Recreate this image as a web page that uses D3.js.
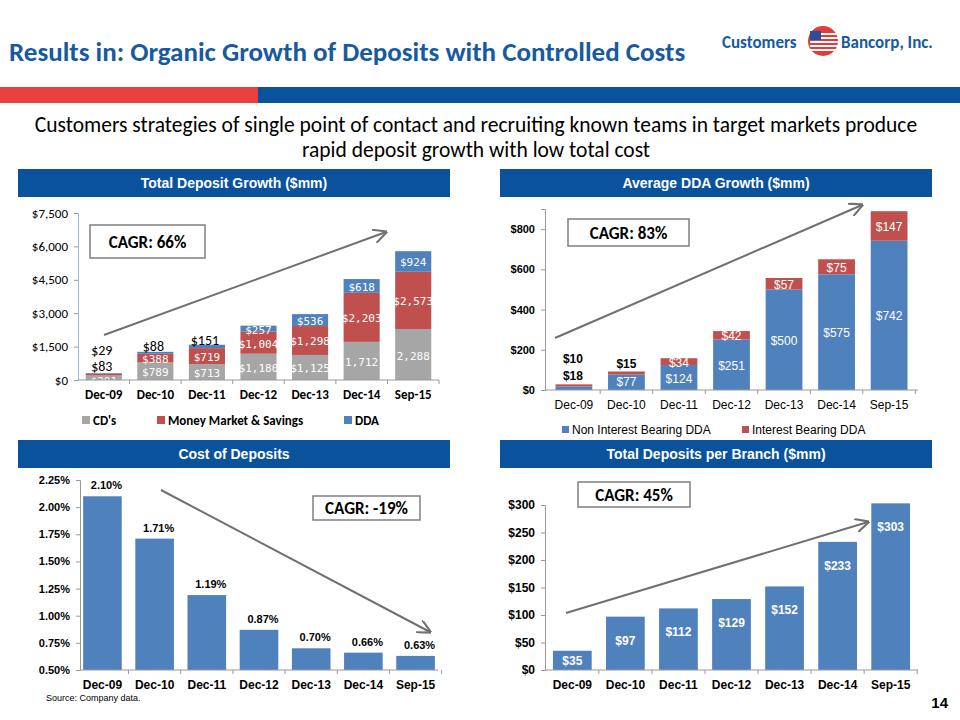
<!DOCTYPE html>
<html><head><meta charset="utf-8">
<script src="https://cdnjs.cloudflare.com/ajax/libs/d3/7.8.5/d3.min.js"></script>
<style>body{margin:0;background:#fff}svg{display:block;font-family:Calibri,Carlito,"Liberation Sans",sans-serif}</style>
</head><body><svg id="c" width="960" height="720"></svg>
<script>
const years = ['Dec-09','Dec-10','Dec-11','Dec-12','Dec-13','Dec-14','Sep-15'];
const cds = [201, 789, 713, 1180, 1125, 1712, 2288];
const mms = [83, 388, 719, 1004, 1298, 2203, 2573];
const dda = [29, 88, 151, 257, 536, 618, 924];
const nonIntDda = [18, 77, 124, 251, 500, 575, 742];
const intDda = [10, 15, 34, 42, 57, 75, 147];
const costPct = [2.10, 1.71, 1.19, 0.87, 0.70, 0.66, 0.63];
const perBranch = [35, 97, 112, 129, 152, 233, 303];

const BLUE = '#4f81bd', RED = '#c0504d', GREY = '#a6a6a6';
const svg = d3.select('#c');
const arial = 'Arial,"Liberation Sans",sans-serif';

// header
svg.append('text').attr('x', 9).attr('y', 61).attr('fill', '#175aa0')
  .attr('font-size', 27).attr('font-weight', 'bold')
  .text('Results in:  Organic Growth of Deposits with Controlled Costs');
svg.append('text').attr('x', 722).attr('y', 48).attr('fill', '#175aa0')
  .attr('font-size', 17).attr('font-weight', 'bold').text('Customers');
svg.append('circle').attr('cx', 823).attr('cy', 41).attr('r', 15).attr('fill', '#e03c3c');
[0,1,2,3,4].forEach(i => svg.append('rect').attr('x', 810).attr('y', 33 + i * 4)
  .attr('width', 28).attr('height', 2).attr('fill', '#fff'));
svg.append('rect').attr('x', 810).attr('y', 31).attr('width', 11).attr('height', 9).attr('fill', '#2a4f9a');
svg.append('text').attr('x', 841).attr('y', 48).attr('fill', '#175aa0')
  .attr('font-size', 17).attr('font-weight', 'bold').text('Bancorp, Inc.');
svg.append('rect').attr('x', 0).attr('y', 87).attr('width', 258).attr('height', 16).attr('fill', '#e8403f');
svg.append('rect').attr('x', 258).attr('y', 87).attr('width', 702).attr('height', 16).attr('fill', '#0a529c');
svg.append('text').attr('x', 476).attr('y', 132).attr('text-anchor', 'middle').attr('font-size', 21.5)
  .text('Customers strategies of single point of contact and recruiting known teams in target markets produce');
svg.append('text').attr('x', 476).attr('y', 157).attr('text-anchor', 'middle').attr('font-size', 21.5)
  .text('rapid deposit growth with low total cost');

function panelHead(x, y, t) {
  svg.append('rect').attr('x', x).attr('y', y).attr('width', 432).attr('height', 28).attr('fill', '#0a529c');
  svg.append('text').attr('x', x + 216).attr('y', y + 19).attr('text-anchor', 'middle').attr('fill', '#fff')
    .attr('font-family', arial).attr('font-weight', 'bold').attr('font-size', 14).text(t);
}
panelHead(18, 169, 'Total Deposit Growth  ($mm)');
panelHead(500, 169, 'Average DDA Growth  ($mm)');
panelHead(18, 440, 'Cost of Deposits');
panelHead(500, 440, 'Total Deposits per Branch  ($mm)');

svg.append('defs').append('marker').attr('id', 'ah').attr('viewBox', '0 0 10 10').attr('refX', 9).attr('refY', 5)
  .attr('markerWidth', 7).attr('markerHeight', 7).attr('orient', 'auto')
  .append('path').attr('d', 'M0,0L10,5L0,10').attr('fill', 'none').attr('stroke', '#707070').attr('stroke-width', 1.5);
function arrow(x1, y1, x2, y2) {
  svg.append('line').attr('x1', x1).attr('y1', y1).attr('x2', x2).attr('y2', y2)
    .attr('stroke', '#707070').attr('stroke-width', 2).attr('marker-end', 'url(#ah)');
}
function cagr(x, y, w, h, t) {
  svg.append('rect').attr('x', x).attr('y', y).attr('width', w).attr('height', h)
    .attr('fill', '#fff').attr('stroke', '#7f7f7f').attr('stroke-width', 1.5);
  svg.append('text').attr('x', x + w / 2).attr('y', y + h / 2 + 6).attr('text-anchor', 'middle')
    .attr('font-weight', 'bold').attr('font-size', 17).text(t);
}
function xAxis(x, y, left, font, size, bold) {
  const g = svg.append('g').attr('transform', `translate(0,${y})`)
    .call(d3.axisBottom(x).tickSize(0).tickPadding(10));
  g.select('.domain').attr('stroke', '#999').attr('d', `M${left},0H${x.range()[1]}`);
  g.selectAll('text').attr('font-family', font).attr('font-size', size).attr('font-weight', bold ? 'bold' : 'normal').attr('fill', '#000');
  g.selectAll('.tick').append('line').attr('y2', 4).attr('stroke', '#999')
    .attr('transform', `translate(${x.step() / 2},0)`);
}
function yAxis(y, left, ticks, fmt, font, size, col) {
  const g = svg.append('g').attr('transform', `translate(${left},0)`)
    .call(d3.axisLeft(y).tickValues(ticks).tickFormat(fmt).tickSize(4).tickPadding(6));
  g.select('.domain').attr('stroke', col || '#999');
  g.selectAll('line').attr('stroke', '#999');
  g.selectAll('text').attr('font-family', font).attr('font-size', size).attr('fill', '#000')
    .attr('font-weight', font === arial ? 'bold' : 'normal');
}
const dol = d => '$' + d3.format(',')(d);

// ---- Total deposit growth
{
  const x = d3.scaleBand().domain(years).range([78, 439]).paddingInner(0.3).paddingOuter(0.15);
  const y = d3.scaleLinear().domain([0, 7500]).range([380, 213]);
  yAxis(y, 78, d3.range(0, 7501, 1500), dol, 'Calibri,Carlito,sans-serif', 13, '#9bbbd9');
  const series = [[cds, GREY], [mms, RED], [dda, BLUE]];
  years.forEach((yr, i) => {
    let base = 0;
    series.forEach(([arr, col], s) => {
      const v = arr[i];
      svg.append('rect').attr('x', x(yr)).attr('width', x.bandwidth())
        .attr('y', y(base + v)).attr('height', y(base) - y(base + v)).attr('fill', col);
      const inside = i >= 3 || s === 0 || (i >= 1 && s === 1);
      if (inside) {
        svg.append('text').attr('x', x(yr) + x.bandwidth() / 2).attr('y', i === 0 ? 385 : y(base + v / 2) + 5)
          .attr('text-anchor', 'middle').attr('fill', '#fff')
          .attr('font-family', '"DejaVu Sans Mono",monospace').attr('font-size', 11)
          .text((s === 0 && i >= 5) ? d3.format(',')(v) : dol(v));
      }
      base += v;
    });
  });
  const outside = [[0, dda, 355], [0, mms, 371], [1, dda, 351], [2, dda, 345]];
  outside.forEach(([i, arr, yy]) => svg.append('text').attr('x', x(years[i]) + x.bandwidth() / 2 - 2)
    .attr('y', yy).attr('text-anchor', 'middle').attr('font-size', 14).text(dol(arr[i])));
  xAxis(x, 380, 78, 'Calibri,Carlito,sans-serif', 13, true);
  const lg = [['CD\'s', GREY, 82], ['Money Market & Savings', RED, 157], ['DDA', BLUE, 344]];
  lg.forEach(([t, c, lx]) => {
    svg.append('rect').attr('x', lx).attr('y', 416).attr('width', 8).attr('height', 8).attr('fill', c);
    svg.append('text').attr('x', lx + 11).attr('y', 425).attr('font-size', 13).attr('font-weight', 'bold').text(t);
  });
  arrow(104, 335, 386, 232);
  cagr(90, 225, 115, 33, 'CAGR: 66%');
}

// ---- Average DDA growth
{
  const x = d3.scaleBand().domain(years).range([545, 918]).paddingInner(0.3).paddingOuter(0.2);
  const y = d3.scaleLinear().domain([0, 900]).range([390, 209]);
  yAxis(y, 545, d3.range(0, 801, 200), d => '$' + d, arial, 11);
  years.forEach((yr, i) => {
    const a = nonIntDda[i], b = intDda[i];
    svg.append('rect').attr('x', x(yr)).attr('width', x.bandwidth()).attr('y', y(a)).attr('height', y(0) - y(a)).attr('fill', BLUE);
    svg.append('rect').attr('x', x(yr)).attr('width', x.bandwidth()).attr('y', y(a + b)).attr('height', y(a) - y(a + b)).attr('fill', RED);
    const cx = x(yr) + x.bandwidth() / 2;
    if (i >= 1) svg.append('text').attr('x', cx).attr('y', i === 1 ? 386 : y(a / 2) + 5).attr('text-anchor', 'middle')
      .attr('fill', '#fff').attr('font-family', arial).attr('font-size', 12).text('$' + a);
    if (i >= 2) svg.append('text').attr('x', cx).attr('y', y(a + b / 2) + 5).attr('text-anchor', 'middle')
      .attr('fill', '#fff').attr('font-family', arial).attr('font-size', 12).text('$' + b);
  });
  const outs = [[0, '$10', 363], [0, '$18', 380], [1, '$15', 368]];
  outs.forEach(([i, t, yy]) => svg.append('text').attr('x', x(years[i]) + x.bandwidth() / 2 - (i ? 0 : 1))
    .attr('y', yy).attr('text-anchor', 'middle').attr('font-family', arial).attr('font-weight', 'bold').attr('font-size', 12).text(t));
  xAxis(x, 390, 545, arial, 12, false);
  const lg = [['Non Interest Bearing DDA', BLUE, 562], ['Interest Bearing DDA', RED, 742]];
  lg.forEach(([t, c, lx]) => {
    svg.append('rect').attr('x', lx).attr('y', 426).attr('width', 7).attr('height', 7).attr('fill', c);
    svg.append('text').attr('x', lx + 10).attr('y', 434).attr('font-family', arial).attr('font-size', 12).text(t);
  });
  arrow(555, 338, 862, 205);
  cagr(568, 219, 121, 27, 'CAGR: 83%');
}

// ---- Cost of deposits
{
  const x = d3.scaleBand().domain(years).range([80, 438]).paddingInner(0.26).paddingOuter(0.06);
  const y = d3.scaleLinear().domain([0.5, 2.25]).range([670, 480]);
  yAxis(y, 80, d3.range(0.5, 2.26, 0.25), d => d.toFixed(2) + '%', arial, 11);
  years.forEach((yr, i) => {
    const v = costPct[i];
    svg.append('rect').attr('x', x(yr)).attr('width', x.bandwidth()).attr('y', y(v)).attr('height', y(0.5) - y(v)).attr('fill', BLUE);
    svg.append('text').attr('x', x(yr) + x.bandwidth() / 2 + 4).attr('y', y(v) - 7).attr('text-anchor', 'middle')
      .attr('font-family', arial).attr('font-weight', 'bold').attr('font-size', 11).text(v.toFixed(2) + '%');
  });
  xAxis(x, 670, 80, arial, 12, true);
  arrow(161, 490, 430, 632);
  cagr(313, 496, 107, 24, 'CAGR: -19%');
}

// ---- Deposits per branch
{
  const x = d3.scaleBand().domain(years).range([545, 918]).paddingInner(0.27).paddingOuter(0.15);
  const y = d3.scaleLinear().domain([0, 300]).range([670, 505]);
  yAxis(y, 545, d3.range(0, 301, 50), d => '$' + d, arial, 12);
  years.forEach((yr, i) => {
    const v = perBranch[i];
    svg.append('rect').attr('x', x(yr)).attr('width', x.bandwidth()).attr('y', y(v)).attr('height', y(0) - y(v)).attr('fill', BLUE);
    svg.append('text').attr('x', x(yr) + x.bandwidth() / 2).attr('y', i === 0 ? 665 : y(v) + 28).attr('text-anchor', 'middle')
      .attr('fill', '#fff').attr('font-family', arial).attr('font-weight', 'bold').attr('font-size', 12).text('$' + v);
  });
  xAxis(x, 670, 545, arial, 12, true);
  arrow(566, 613, 868, 522);
  cagr(578, 482, 112, 25, 'CAGR: 45%');
}

svg.append('text').attr('x', 46).attr('y', 701).attr('font-family', arial).attr('font-size', 9).text('Source: Company data.');
svg.append('text').attr('x', 948).attr('y', 708).attr('text-anchor', 'end').attr('font-family', arial)
  .attr('font-weight', 'bold').attr('font-size', 15).text('14');
</script></body></html>
